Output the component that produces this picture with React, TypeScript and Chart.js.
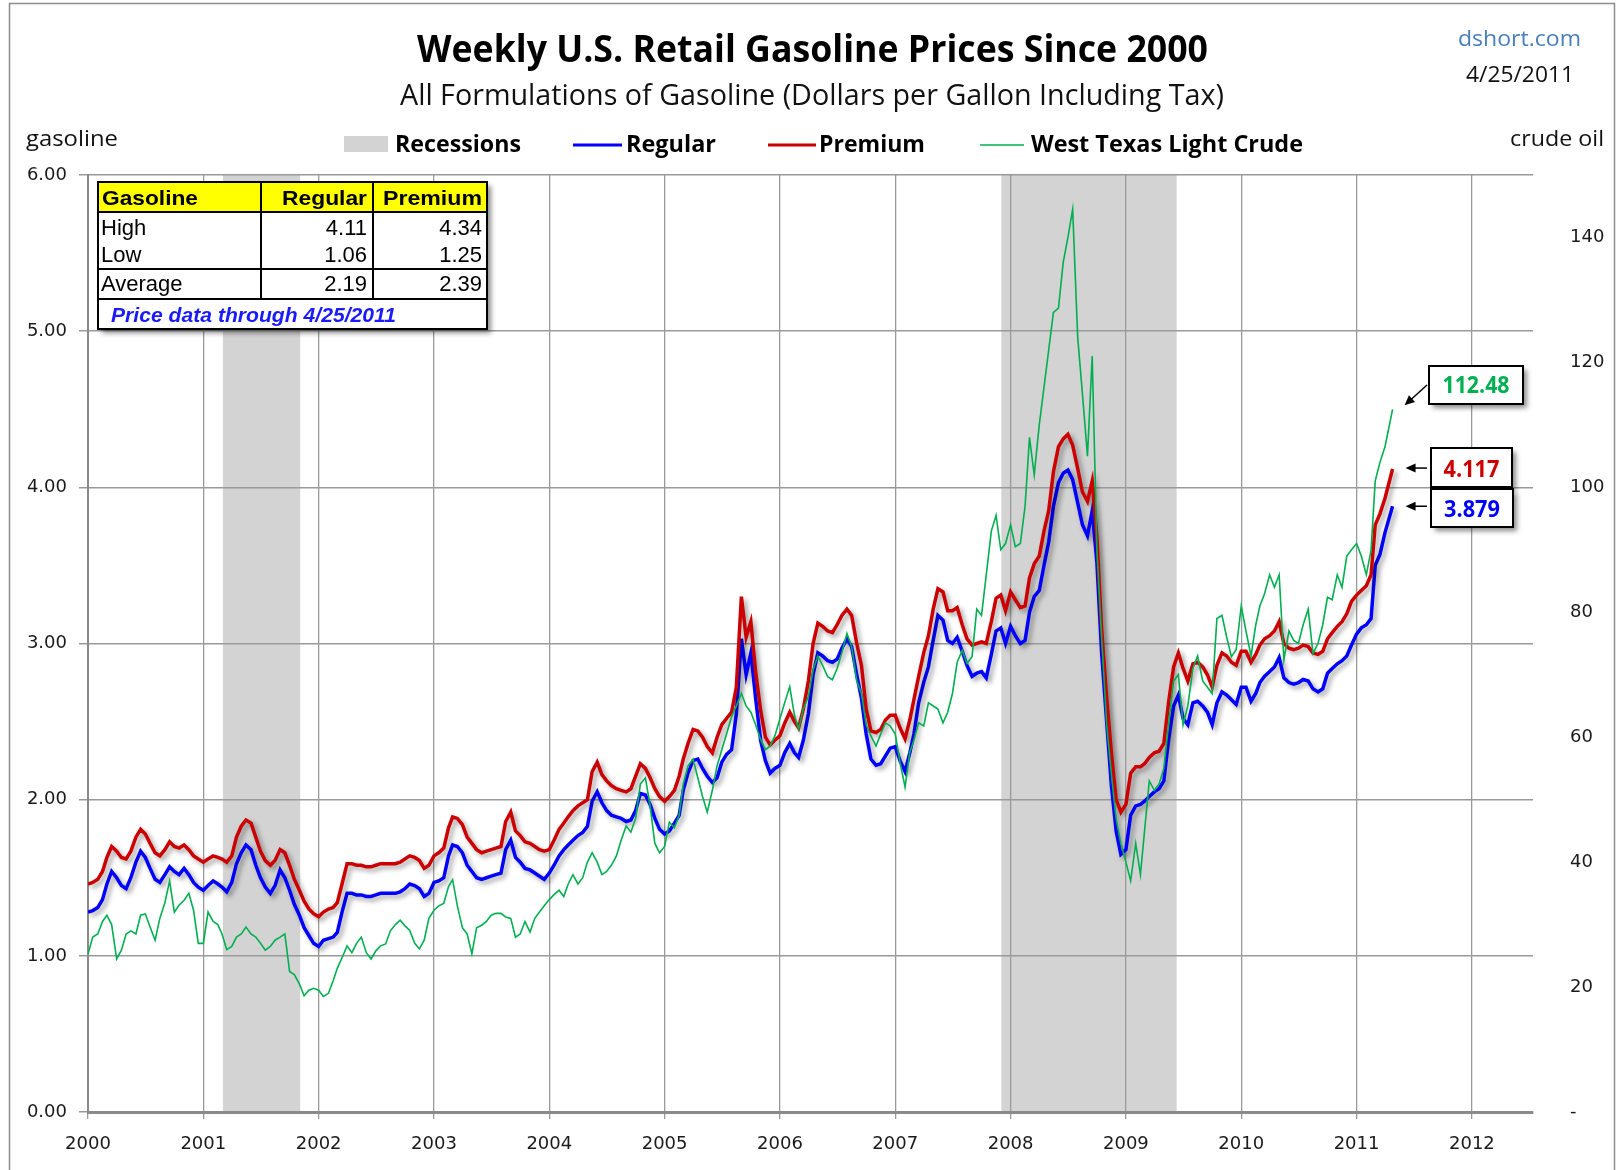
import React, { useEffect, useRef } from "react";
import { Chart, registerables } from "chart.js";

Chart.register(...registerables);

// ---- Data (semi-monthly readings, 1st and 16th of each month; last = 4/25/2011) ----
const regular = [
  1.28, 1.29, 1.31, 1.36, 1.46, 1.54, 1.50, 1.45, 1.43, 1.50, 1.60, 1.67, 1.63, 1.56, 1.49, 1.47, 1.52, 1.57, 1.54, 1.52, 1.56, 1.52, 1.47, 1.44,
  1.42, 1.45, 1.48, 1.46, 1.44, 1.41, 1.47, 1.59, 1.66, 1.71, 1.68, 1.58, 1.50, 1.44, 1.40, 1.45, 1.55, 1.50, 1.42, 1.33, 1.26, 1.18, 1.13, 1.08,
  1.06, 1.10, 1.11, 1.12, 1.15, 1.28, 1.40, 1.40, 1.39, 1.39, 1.38, 1.38, 1.39, 1.40, 1.40, 1.40, 1.40, 1.41, 1.43, 1.46, 1.45, 1.43, 1.38, 1.40,
  1.47, 1.48, 1.50, 1.64, 1.71, 1.70, 1.66, 1.58, 1.54, 1.50, 1.49, 1.50, 1.51, 1.52, 1.53, 1.68, 1.74, 1.63, 1.60, 1.56, 1.55, 1.53, 1.51, 1.49,
  1.53, 1.58, 1.64, 1.68, 1.71, 1.74, 1.77, 1.79, 1.83, 1.99, 2.05, 1.98, 1.93, 1.90, 1.89, 1.88, 1.86, 1.87, 1.93, 2.04, 2.03, 1.97, 1.88, 1.81,
  1.78, 1.80, 1.85, 1.90, 2.06, 2.17, 2.25, 2.26, 2.20, 2.15, 2.11, 2.14, 2.24, 2.29, 2.32, 2.55, 3.03, 2.80, 2.94, 2.65, 2.38, 2.25, 2.17, 2.20,
  2.22, 2.30, 2.36, 2.30, 2.27, 2.38, 2.55, 2.80, 2.94, 2.92, 2.89, 2.88, 2.90, 2.97, 3.03, 2.98, 2.80, 2.65, 2.42, 2.26, 2.22, 2.23, 2.28, 2.33,
  2.34, 2.25, 2.18, 2.30, 2.42, 2.62, 2.75, 2.85, 3.02, 3.18, 3.15, 3.02, 3.00, 3.04, 2.95, 2.86, 2.79, 2.81, 2.82, 2.78, 2.93, 3.08, 3.10, 3.00,
  3.11, 3.05, 3.00, 3.02, 3.20, 3.30, 3.34, 3.50, 3.65, 3.88, 4.03, 4.09, 4.11, 4.05, 3.90, 3.76, 3.69, 3.85, 3.52, 2.94, 2.50, 2.09, 1.80, 1.65,
  1.68, 1.90, 1.96, 1.97, 1.99, 2.02, 2.05, 2.07, 2.12, 2.38, 2.60, 2.67, 2.52, 2.48, 2.62, 2.63, 2.60, 2.56, 2.48, 2.62, 2.69, 2.67, 2.64, 2.61,
  2.72, 2.72, 2.63, 2.68, 2.75, 2.79, 2.82, 2.85, 2.91, 2.78, 2.75, 2.74, 2.75, 2.77, 2.76, 2.71, 2.69, 2.71, 2.81, 2.84, 2.87, 2.89, 2.92, 2.99,
  3.06, 3.10, 3.12, 3.16, 3.50, 3.57, 3.71, 3.879,
];

const premium = [
  1.46, 1.47, 1.49, 1.54, 1.63, 1.70, 1.67, 1.63, 1.62, 1.67, 1.76, 1.81, 1.78, 1.72, 1.66, 1.64, 1.68, 1.73, 1.70, 1.69, 1.71, 1.68, 1.64, 1.62,
  1.60, 1.62, 1.64, 1.63, 1.62, 1.60, 1.64, 1.76, 1.83, 1.87, 1.85, 1.76, 1.67, 1.61, 1.58, 1.61, 1.68, 1.66, 1.58, 1.49, 1.42, 1.35, 1.30, 1.27,
  1.25, 1.28, 1.30, 1.31, 1.34, 1.46, 1.59, 1.59, 1.58, 1.58, 1.57, 1.57, 1.58, 1.59, 1.59, 1.59, 1.59, 1.60, 1.62, 1.64, 1.63, 1.61, 1.56, 1.58,
  1.64, 1.66, 1.69, 1.82, 1.89, 1.88, 1.84, 1.76, 1.72, 1.68, 1.66, 1.67, 1.68, 1.69, 1.70, 1.86, 1.92, 1.80, 1.77, 1.73, 1.72, 1.70, 1.68, 1.67,
  1.68, 1.74, 1.81, 1.85, 1.89, 1.93, 1.96, 1.98, 2.00, 2.18, 2.24, 2.16, 2.12, 2.09, 2.07, 2.06, 2.05, 2.07, 2.15, 2.23, 2.20, 2.14, 2.07, 2.02,
  1.99, 2.02, 2.06, 2.15, 2.26, 2.36, 2.45, 2.44, 2.40, 2.34, 2.30, 2.40, 2.48, 2.52, 2.56, 2.72, 3.30, 3.04, 3.14, 2.82, 2.57, 2.40, 2.35, 2.38,
  2.41, 2.49, 2.56, 2.50, 2.46, 2.58, 2.76, 3.00, 3.13, 3.11, 3.08, 3.07, 3.12, 3.18, 3.22, 3.18, 3.00, 2.86, 2.58, 2.44, 2.43, 2.45, 2.51, 2.54,
  2.54, 2.46, 2.39, 2.51, 2.64, 2.79, 2.94, 3.05, 3.22, 3.35, 3.33, 3.21, 3.21, 3.23, 3.12, 3.03, 2.99, 3.00, 3.01, 3.00, 3.14, 3.29, 3.31, 3.21,
  3.33, 3.28, 3.23, 3.24, 3.42, 3.51, 3.56, 3.72, 3.85, 4.10, 4.26, 4.31, 4.34, 4.27, 4.12, 3.97, 3.91, 4.04, 3.68, 3.09, 2.65, 2.30, 2.00, 1.92,
  1.97, 2.17, 2.21, 2.21, 2.23, 2.27, 2.30, 2.31, 2.36, 2.62, 2.85, 2.94, 2.84, 2.76, 2.87, 2.88, 2.85, 2.80, 2.72, 2.86, 2.94, 2.92, 2.88, 2.86,
  2.95, 2.95, 2.88, 2.93, 2.99, 3.03, 3.05, 3.08, 3.14, 3.00, 2.97, 2.96, 2.97, 2.99, 2.98, 2.94, 2.93, 2.95, 3.03, 3.07, 3.11, 3.14, 3.19, 3.27,
  3.31, 3.34, 3.37, 3.44, 3.76, 3.83, 3.93, 4.117,
];

const crude = [
  25.3, 28.0, 28.5, 30.5, 31.5, 30.0, 24.5, 25.9, 28.5, 29.0, 28.5, 31.5, 31.7, 29.6, 27.5, 31.0, 33.5, 37.0, 32.0, 33.1, 33.9, 35.0, 32.3, 27.0,
  27.0, 32.0, 30.5, 30.0, 28.5, 26.0, 26.5, 28.0, 28.5, 29.6, 28.5, 28.0, 27.0, 25.9, 26.5, 27.5, 28.0, 28.5, 22.5, 22.0, 20.5, 18.6, 19.5, 19.8,
  19.5, 18.5, 19.0, 21.0, 23.0, 24.7, 26.6, 25.5, 27.0, 28.0, 25.5, 24.5, 25.8, 26.6, 26.9, 29.0, 30.0, 30.7, 29.8, 29.1, 27.0, 26.1, 27.5, 31.0,
  32.3, 33.0, 33.4, 36.1, 37.2, 33.0, 29.5, 28.5, 25.3, 29.5, 29.9, 30.5, 31.5, 31.8, 31.8, 31.2, 31.0, 28.0, 28.5, 30.5, 28.8, 31.0, 32.0, 33.0,
  34.0, 34.8, 35.5, 34.5, 36.5, 38.0, 36.5, 37.5, 40.0, 41.5, 40.0, 38.0, 38.5, 39.5, 41.0, 43.5, 45.8, 44.8, 47.0, 52.5, 53.5, 49.0, 43.0, 41.5,
  42.5, 46.4, 45.5, 47.5, 52.5, 55.4, 56.5, 53.5, 50.5, 48.0, 51.5, 55.4, 58.0, 60.5, 63.3, 65.0, 67.0, 65.0, 64.0, 62.0, 59.6, 58.0, 58.6, 60.2,
  63.0, 65.5, 68.1, 63.5, 61.3, 64.5, 66.5, 70.8, 73.0, 71.5, 69.7, 69.2, 71.0, 73.5, 76.6, 74.5, 69.0, 67.0, 62.0, 60.2, 58.6, 60.5, 62.3, 61.8,
  60.5, 56.0, 52.0, 57.6, 59.5, 62.3, 61.8, 65.5, 65.0, 64.5, 62.3, 64.0, 67.0, 72.0, 73.9, 71.8, 72.9, 80.5, 79.5, 86.0, 93.0, 95.5, 90.0, 91.0,
  94.0, 90.5, 91.0, 97.0, 108.0, 102.0, 110.0, 116.0, 122.0, 128.0, 128.7, 136.0, 140.0, 144.5, 124.0, 115.0, 105.0, 121.0, 90.0, 76.0, 62.0, 54.0, 47.0, 43.0,
  40.0, 37.0, 43.0, 38.0, 45.0, 53.0, 51.5, 52.5, 55.0, 62.0, 69.0, 70.0, 62.0, 65.0, 71.0, 73.0, 69.0, 68.0, 67.0, 79.0, 79.5, 76.0, 72.9, 74.0,
  81.0, 77.0, 73.0, 78.0, 81.0, 83.0, 86.0, 84.0, 86.0, 72.4, 77.0, 75.5, 75.0, 78.0, 80.5, 73.4, 75.0, 78.0, 82.4, 82.0, 86.0, 84.0, 89.0, 90.0,
  91.0, 89.0, 86.0, 90.0, 101.0, 104.0, 106.5, 112.48,
];

const sampleDays = [1, 16];
const firstYear = 2000;
const lastDate = [2011, 3, 25]; // 4/25/2011
const yearTicks = [2000, 2001, 2002, 2003, 2004, 2005, 2006, 2007, 2008, 2009, 2010, 2011, 2012];
const gasTicks = [0, 1, 2, 3, 4, 5, 6];
const crudeTicks = [0, 20, 40, 60, 80, 100, 120, 140];
const recessionStarts = [2001.17, 2007.92];
const recessionEnds = [2001.84, 2009.44];
const tableHeader = ["Gasoline", "Regular", "Premium"];
const tableRows = [
  ["High", "4.11", "4.34"],
  ["Low", "1.06", "1.25"],
  ["Average", "2.19", "2.39"],
];
const lastLabels = ["3.879", "4.117", "112.48"];

const W = 1617;
const H = 1170;

function decimalYear(y: number, m: number, d: number) {
  const s = Date.UTC(y, 0, 1);
  const e = Date.UTC(y + 1, 0, 1);
  return y + (Date.UTC(y, m, d) - s) / (e - s);
}

function buildDates(n: number) {
  const out: number[] = [];
  let y = firstYear;
  let m = 0;
  while (out.length < n) {
    for (const d of sampleDays) if (out.length < n) out.push(decimalYear(y, m, d));
    m++;
    if (m === 12) {
      m = 0;
      y++;
    }
  }
  out[n - 1] = decimalYear(lastDate[0], lastDate[1], lastDate[2]);
  return out;
}

const dates = buildDates(regular.length);

function fitText(ctx: any, text: string, x: number, y: number, font: string, width: number, color: string, align: string = "left") {
  ctx.save();
  ctx.font = font;
  const w = ctx.measureText(text).width;
  const sx = width / w;
  ctx.translate(x, y);
  ctx.scale(sx, 1);
  ctx.fillStyle = color;
  ctx.textAlign = align;
  ctx.textBaseline = "alphabetic";
  ctx.fillText(text, 0, 0);
  ctx.restore();
}

function shadowBox(ctx: any, x: number, y: number, w: number, h: number) {
  ctx.save();
  ctx.shadowColor = "rgba(0,0,0,0.45)";
  ctx.shadowBlur = 5;
  ctx.shadowOffsetX = 4;
  ctx.shadowOffsetY = 4;
  ctx.fillStyle = "#fff";
  ctx.fillRect(x, y, w, h);
  ctx.restore();
  ctx.save();
  ctx.strokeStyle = "#000";
  ctx.lineWidth = 2;
  ctx.strokeRect(x, y, w, h);
  ctx.restore();
}

function arrow(ctx: any, x1: number, y1: number, x2: number, y2: number) {
  ctx.save();
  ctx.strokeStyle = "#000";
  ctx.fillStyle = "#000";
  ctx.lineWidth = 1.5;
  const a = Math.atan2(y2 - y1, x2 - x1);
  const L = 10;
  const Wd = 4.5;
  ctx.beginPath();
  ctx.moveTo(x1, y1);
  ctx.lineTo(x2 - (L - 2) * Math.cos(a), y2 - (L - 2) * Math.sin(a));
  ctx.stroke();
  ctx.beginPath();
  ctx.moveTo(x2, y2);
  ctx.lineTo(x2 - L * Math.cos(a) + Wd * Math.sin(a), y2 - L * Math.sin(a) - Wd * Math.cos(a));
  ctx.lineTo(x2 - L * Math.cos(a) - Wd * Math.sin(a), y2 - L * Math.sin(a) + Wd * Math.cos(a));
  ctx.closePath();
  ctx.fill();
  ctx.restore();
}

const recessionPlugin = {
  id: "recessions",
  beforeDraw(chart: any) {
    const { ctx, chartArea, scales } = chart;
    ctx.save();
    ctx.fillStyle = "#d3d3d3";
    recessionStarts.forEach((s, i) => {
      const x1 = scales.x.getPixelForValue(s);
      const x2 = scales.x.getPixelForValue(recessionEnds[i]);
      ctx.fillRect(x1, chartArea.top, x2 - x1, chartArea.bottom - chartArea.top);
    });
    ctx.restore();
  },
};

const shadowPlugin = {
  id: "lineShadow",
  beforeDatasetDraw(chart: any, args: any) {
    const ds = chart.data.datasets[args.index];
    if (ds.shadow) {
      const ctx = chart.ctx;
      ctx.save();
      ctx.shadowColor = "rgba(0,0,0,0.38)";
      ctx.shadowBlur = 5;
      ctx.shadowOffsetX = 3;
      ctx.shadowOffsetY = 3;
    }
  },
  afterDatasetDraw(chart: any, args: any) {
    const ds = chart.data.datasets[args.index];
    if (ds.shadow) chart.ctx.restore();
  },
};

const decorPlugin = {
  id: "decor",
  afterDraw(chart: any) {
    const { ctx, scales } = chart;

    // Titles
    fitText(ctx, "Weekly U.S. Retail Gasoline Prices Since 2000", 417, 62, "bold 38px 'Open Sans'", 791, "#000");
    fitText(ctx, "All Formulations of Gasoline (Dollars per Gallon Including Tax)", 400, 105, "29px 'Open Sans'", 824, "#111");
    fitText(ctx, "dshort.com", 1458, 46, "22px 'Open Sans'", 123, "#4a7ebb");
    fitText(ctx, "4/25/2011", 1466, 82, "22px 'Open Sans'", 108, "#111");
    fitText(ctx, "gasoline", 26, 146, "22px 'Open Sans'", 92, "#111");
    fitText(ctx, "crude oil", 1510, 146, "22px 'Open Sans'", 94, "#111");

    // Legend
    ctx.save();
    ctx.fillStyle = "#d3d3d3";
    ctx.fillRect(344, 136, 44, 16);
    ctx.lineCap = "butt";
    ctx.strokeStyle = "#0000ff";
    ctx.lineWidth = 3;
    ctx.beginPath();
    ctx.moveTo(573, 145);
    ctx.lineTo(622, 145);
    ctx.stroke();
    ctx.strokeStyle = "#cc0000";
    ctx.beginPath();
    ctx.moveTo(768, 145);
    ctx.lineTo(816, 145);
    ctx.stroke();
    ctx.strokeStyle = "#00b050";
    ctx.lineWidth = 1.5;
    ctx.beginPath();
    ctx.moveTo(980, 145);
    ctx.lineTo(1024, 145);
    ctx.stroke();
    ctx.restore();
    const lf = "bold 23px 'Open Sans'";
    fitText(ctx, "Recessions", 395, 152, lf, 126, "#000");
    fitText(ctx, "Regular", 626, 152, lf, 90, "#000");
    fitText(ctx, "Premium", 819, 152, lf, 106, "#000");
    fitText(ctx, "West Texas Light Crude", 1031, 152, lf, 272, "#000");

    // Stats table
    const tx = 98, ty = 182, tw = 389, th = 147;
    shadowBox(ctx, tx, ty, tw, th);
    ctx.save();
    ctx.fillStyle = "#ffff00";
    ctx.fillRect(tx, ty, tw, 30);
    ctx.strokeStyle = "#000";
    ctx.lineWidth = 2;
    ctx.strokeRect(tx, ty, tw, th);
    ctx.beginPath();
    [212, 269, 299].forEach((yy) => {
      ctx.moveTo(tx, yy);
      ctx.lineTo(tx + tw, yy);
    });
    [261, 373].forEach((xx) => {
      ctx.moveTo(xx, ty);
      ctx.lineTo(xx, 299);
    });
    ctx.stroke();
    ctx.restore();
    const hf = "bold 21px 'Liberation Sans'";
    fitText(ctx, tableHeader[0], 102, 205, hf, 96, "#000");
    fitText(ctx, tableHeader[1], 367, 205, hf, 85, "#000", "right");
    fitText(ctx, tableHeader[2], 482, 205, hf, 99, "#000", "right");
    const rowBase = [235, 262, 291];
    ctx.save();
    ctx.font = "22px 'Liberation Sans'";
    ctx.fillStyle = "#000";
    tableRows.forEach((r, i) => {
      ctx.textAlign = "left";
      ctx.fillText(r[0], 101, rowBase[i]);
      ctx.textAlign = "right";
      ctx.fillText(r[1], 367, rowBase[i]);
      ctx.fillText(r[2], 482, rowBase[i]);
    });
    ctx.restore();
    fitText(ctx, "Price data through 4/25/2011", 111, 322, "italic bold 20px 'Liberation Sans'", 285, "#1a1aff");

    // Last value call-outs
    const n = regular.length;
    const lx = scales.x.getPixelForValue(dates[n - 1]);
    const ryP = scales.y.getPixelForValue(regular[n - 1]);
    const pyP = scales.y.getPixelForValue(premium[n - 1]);
    const cyP = scales.y2.getPixelForValue(crude[n - 1]);
    const bf = "bold 23px 'Open Sans'";

    shadowBox(ctx, 1429, 366, 94, 38);
    fitText(ctx, lastLabels[2], 1476, 393, bf, 67, "#00b050", "center");
    arrow(ctx, 1427, 385, lx + 12, cyP - 4);

    shadowBox(ctx, 1431, 448, 81, 39);
    fitText(ctx, lastLabels[1], 1471.5, 477, bf, 56, "#cc0000", "center");
    arrow(ctx, 1427, pyP - 1, lx + 13, pyP - 1);

    shadowBox(ctx, 1431, 489, 82, 38);
    fitText(ctx, lastLabels[0], 1472, 517, bf, 56, "#0000ff", "center");
    arrow(ctx, 1427, ryP, lx + 13, ryP);

    // Outer frame
    ctx.save();
    ctx.strokeStyle = "#8c8c8c";
    ctx.lineWidth = 1.5;
    ctx.strokeRect(9.5, 3.5, 1605, 1180);
    ctx.restore();
  },
};

export default function App() {
  const ref = useRef<HTMLCanvasElement | null>(null);

  useEffect(() => {
    if (!ref.current) return;
    const tickFont = { family: "'DejaVu Sans'", size: 18 };
    const chart = new Chart(ref.current, {
      type: "line",
      data: {
        datasets: [
          {
            label: "Regular",
            data: dates.map((x, i) => ({ x, y: regular[i] })),
            borderColor: "#0000ff",
            borderWidth: 3.5,
            pointRadius: 0,
            yAxisID: "y",
            order: 3,
            shadow: true,
          } as any,
          {
            label: "Premium",
            data: dates.map((x, i) => ({ x, y: premium[i] })),
            borderColor: "#cc0000",
            borderWidth: 3.5,
            pointRadius: 0,
            yAxisID: "y",
            order: 2,
            shadow: true,
          } as any,
          {
            label: "West Texas Light Crude",
            data: dates.map((x, i) => ({ x, y: crude[i] })),
            borderColor: "#00b050",
            borderWidth: 1.6,
            pointRadius: 0,
            yAxisID: "y2",
            order: 1,
          } as any,
        ],
      },
      options: {
        animation: false,
        responsive: false,
        devicePixelRatio: 1,
        layout: { padding: { top: 175, left: 0, right: 0, bottom: 0 } },
        plugins: {
          legend: { display: false },
          tooltip: { enabled: false },
          title: { display: false },
        },
        scales: {
          x: {
            type: "linear",
            min: 2000,
            max: 2012.53,
            afterBuildTicks: (s: any) => {
              s.ticks = yearTicks.map((v) => ({ value: v }));
            },
            afterFit: (s: any) => {
              s.height = 58;
            },
            ticks: {
              autoSkip: false,
              maxRotation: 0,
              padding: 15,
              font: tickFont,
              color: "#1a1a1a",
              callback: (v: any) => String(v),
            },
            grid: { color: "#9a9a9a", lineWidth: 1.3, tickLength: 7 },
            border: { color: "#8a8a8a", width: 3 },
          },
          y: {
            position: "left",
            min: 0,
            max: 6,
            afterBuildTicks: (s: any) => {
              s.ticks = gasTicks.map((v) => ({ value: v }));
            },
            afterFit: (s: any) => {
              s.width = 88;
            },
            ticks: {
              autoSkip: false,
              padding: 12,
              font: tickFont,
              color: "#1a1a1a",
              callback: (v: any) => Number(v).toFixed(2),
            },
            grid: { color: "#9a9a9a", lineWidth: 1.5, tickLength: 9 },
            border: { color: "#8a8a8a", width: 2 },
          },
          y2: {
            position: "right",
            min: 0,
            max: 150,
            afterBuildTicks: (s: any) => {
              s.ticks = crudeTicks.map((v) => ({ value: v }));
            },
            afterFit: (s: any) => {
              s.width = 84;
            },
            ticks: {
              autoSkip: false,
              padding: 29,
              font: tickFont,
              color: "#1a1a1a",
              callback: (v: any) => (Number(v) === 0 ? "-" : String(v)),
            },
            grid: { display: false, drawOnChartArea: false },
            border: { display: false },
          },
        },
      } as any,
      plugins: [recessionPlugin, shadowPlugin, decorPlugin],
    });
    return () => chart.destroy();
  }, []);

  return (
    <div style={{ position: "fixed", left: 0, top: 0, width: W, height: H, background: "#fff" }}>
      <canvas ref={ref} width={W} height={H} style={{ width: W, height: H, display: "block" }} />
    </div>
  );
}
